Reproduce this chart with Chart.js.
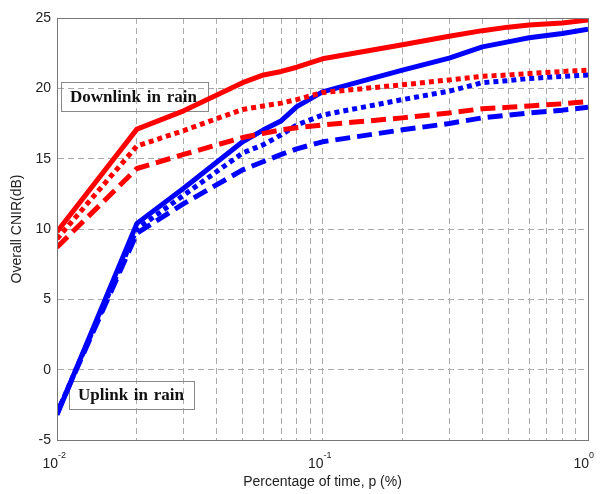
<!DOCTYPE html>
<html>
<head>
<meta charset="utf-8">
<script src="https://cdn.jsdelivr.net/npm/chart.js@4.4.1/dist/chart.umd.min.js"></script>
<style>
  html, body { margin: 0; padding: 0; background: #fff; }
  #wrap { width: 602px; height: 494px; position: relative; }
</style>
</head>
<body>
<div id="wrap"><canvas id="cnir-chart"></canvas></div>
<script>
// percentage of time, p (%)
const timePercent = [0.01, 0.02, 0.03, 0.05, 0.06, 0.07, 0.08, 0.1, 0.2, 0.3, 0.4, 0.5, 0.6, 0.8, 1];

// overall CNIR (dB)
const downSolid  = [9.8, 17.1, 18.4, 20.4, 20.95, 21.2, 21.5, 22.1, 23.1, 23.7, 24.1, 24.35, 24.5, 24.65, 24.85];
const downDotted = [9.3, 15.9, 17.0, 18.5, 18.75, 18.95, 19.2, 19.7, 20.25, 20.6, 20.85, 20.95, 21.05, 21.2, 21.3];
const downDashed = [8.7, 14.3, 15.3, 16.5, 16.8, 17.05, 17.2, 17.4, 17.9, 18.25, 18.55, 18.65, 18.75, 18.9, 19.05];
const upSolid    = [-3.2, 10.4, 12.9, 16.2, 17.05, 17.7, 18.7, 19.75, 21.3, 22.15, 22.95, 23.3, 23.6, 23.9, 24.2];
const upDotted   = [-3.1, 10.0, 12.4, 15.4, 16.0, 16.7, 17.4, 18.1, 19.2, 19.8, 20.4, 20.55, 20.7, 20.85, 20.95];
const upDashed   = [-3.1, 9.7, 11.8, 14.2, 14.8, 15.3, 15.7, 16.2, 17.05, 17.5, 17.9, 18.1, 18.25, 18.45, 18.65];

// grid positions on the log axis and the labelled decades
const xGridTicks = [0.01, 0.02, 0.03, 0.04, 0.05, 0.06, 0.07, 0.08, 0.09,
                    0.1, 0.2, 0.3, 0.4, 0.5, 0.6, 0.7, 0.8, 0.9, 1];
const xDecades = [0.01, 0.1, 1];
const xDecadeExp = ['-2', '-1', '0'];

const sansFont = "'Liberation Sans', Arial, Helvetica, sans-serif";
const serifFont = "'Liberation Serif', 'Times New Roman', serif";

function toPoints(values) {
    return values.map((v, i) => ({ x: timePercent[i], y: v }));
}

function makeSet(label, values, color, dash) {
    return {
        label: label,
        data: toPoints(values),
        borderColor: color,
        backgroundColor: color,
        borderWidth: 5,
        borderDash: dash,
        borderCapStyle: 'butt',
        borderJoinStyle: 'round',
        pointRadius: 0,
        tension: 0,
        fill: false,
    };
}

// text spread so that it fills a given width (wide word gaps as in the figure)
function spreadText(ctx, text, x, y, width) {
    const words = text.split(' ');
    const wordsWidth = words.reduce((s, w) => s + ctx.measureText(w).width, 0);
    const gap = Math.max(4, (width - wordsWidth) / (words.length - 1));
    let cx = x;
    words.forEach(w => {
        ctx.fillText(w, cx, y);
        cx += ctx.measureText(w).width + gap;
    });
}

// framed labels, drawn under the curves and without fill
const textBoxes = {
    id: 'textBoxes',
    beforeDatasetsDraw(chart) {
        const ctx = chart.ctx;
        const boxes = [
            { text: 'Downlink in rain', x: 61, y: 82, w: 147, h: 29, tx: 70, tw: 127 },
            { text: 'Uplink in rain', x: 69, y: 381, w: 125, h: 28, tx: 78, tw: 106 },
        ];
        ctx.save();
        boxes.forEach(b => {
            ctx.strokeStyle = '#888';
            ctx.lineWidth = 1;
            ctx.strokeRect(b.x + 0.5, b.y + 0.5, b.w, b.h);
            ctx.fillStyle = '#111';
            ctx.font = 'bold 17px ' + serifFont;
            ctx.textAlign = 'left';
            ctx.textBaseline = 'middle';
            spreadText(ctx, b.text, b.tx, b.y + b.h / 2 + 1, b.tw);
        });
        ctx.restore();
    },
    afterDraw(chart) {
        const ctx = chart.ctx;
        const area = chart.chartArea;
        const xScale = chart.scales.x;
        ctx.save();
        // frame around the plot
        ctx.strokeStyle = '#777';
        ctx.lineWidth = 1;
        ctx.strokeRect(area.left + 0.5, area.top + 0.5, area.right - area.left, area.bottom - area.top);
        // 10^n tick labels
        ctx.fillStyle = '#222';
        ctx.textBaseline = 'alphabetic';
        xDecades.forEach((v, i) => {
            const px = xScale.getPixelForValue(v);
            ctx.font = '14px ' + sansFont;
            ctx.textAlign = 'right';
            ctx.fillText('10', px + 1, 468);
            ctx.font = '9px ' + sansFont;
            ctx.textAlign = 'left';
            ctx.fillText(xDecadeExp[i], px + 1, 458);
        });
        ctx.restore();
    }
};

const ctx = document.getElementById('cnir-chart');

new Chart(ctx, {
    type: 'line',
    data: {
        datasets: [
            makeSet('Downlink (solid)', downSolid, '#ff0000', []),
            makeSet('Downlink (dotted)', downDotted, '#ff0000', [5, 4]),
            makeSet('Downlink (dashed)', downDashed, '#ff0000', [15, 7]),
            makeSet('Uplink (solid)', upSolid, '#0000ff', []),
            makeSet('Uplink (dotted)', upDotted, '#0000ff', [5, 4]),
            makeSet('Uplink (dashed)', upDashed, '#0000ff', [15, 7]),
        ],
    },
    options: {
        responsive: true,
        maintainAspectRatio: false,
        animation: false,
        layout: { padding: { left: 0, right: 14, top: 18, bottom: 0 } },
        plugins: {
            legend: { display: false },
            tooltip: { enabled: false },
        },
        scales: {
            x: {
                type: 'logarithmic',
                min: 0.01,
                max: 1,
                afterBuildTicks(scale) {
                    scale.ticks = xGridTicks.map(v => ({ value: v }));
                },
                afterFit(scale) {
                    scale.height = 54;
                },
                ticks: {
                    autoSkip: false,
                    callback: () => '',
                },
                grid: {
                    color: '#aaa',
                    lineWidth: 1,
                    drawTicks: false,
                },
                border: { display: true, color: '#777', dash: [6, 4] },
                title: {
                    display: true,
                    text: 'Percentage of time, p (%)',
                    color: '#222',
                    font: { family: sansFont, size: 14 },
                    padding: { top: 0, bottom: 3 },
                },
            },
            y: {
                min: -5,
                max: 25,
                afterFit(scale) {
                    scale.width = 57;
                },
                ticks: {
                    stepSize: 5,
                    color: '#222',
                    padding: 6,
                    font: { family: sansFont, size: 14 },
                },
                grid: {
                    color: '#aaa',
                    lineWidth: 1,
                    drawTicks: false,
                },
                border: { display: true, color: '#777', dash: [6, 4] },
                title: {
                    display: true,
                    text: 'Overall CNIR(dB)',
                    color: '#222',
                    font: { family: sansFont, size: 14 },
                    padding: { top: 9, bottom: 0 },
                },
            },
        },
    },
    plugins: [textBoxes],
});
</script>
</body>
</html>
